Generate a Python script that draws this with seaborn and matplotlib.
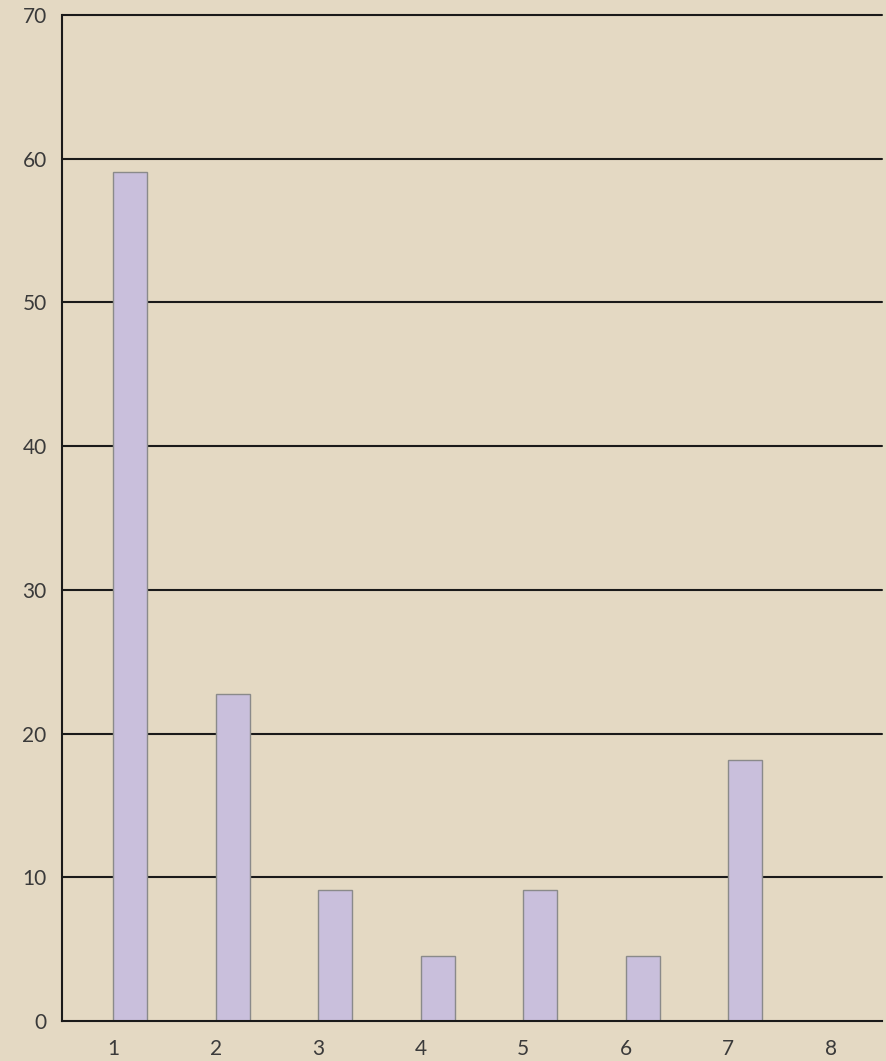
import matplotlib
matplotlib.use("Agg")
import matplotlib.pyplot as plt
import seaborn as sns
import pandas as pd
import numpy as np

categories = ["1", "2", "3", "4", "5", "6", "7", "8"]
values = [59.09, 22.73, 9.09, 4.55, 9.09, 4.55, 18.18, 0.0]
empty_series = [0, 0, 0, 0, 0, 0, 0, 0]
yticks = [0, 10, 20, 30, 40, 50, 60, 70]

sns.set_style("white")
plt.rcParams["font.family"] = ["Lato", "DejaVu Sans"]

bg = "#e4d9c3"
fig = plt.figure(figsize=(8.86, 10.61), dpi=100, facecolor=bg)
ax = fig.add_axes([62/886, 40/1061, 820/886, 1006/1061])
ax.set_facecolor(bg)

df = pd.DataFrame({
    "cat": categories * 2,
    "val": empty_series + values,
    "series": ["a"] * len(categories) + ["b"] * len(categories),
})
sns.barplot(data=df, x="cat", y="val", hue="series", hue_order=["a", "b"], ax=ax,
            palette=["#c9bfdc", "#c9bfdc"], edgecolor="#8a8a8a", linewidth=1.0,
            width=2/3, saturation=1, dodge=True, legend=False)

ax.set_ylim(0, 70)
ax.set_xlim(-0.5, len(categories) - 0.5)
ax.set_yticks(yticks)
ax.set_yticklabels([str(t) for t in yticks])
for t in yticks[1:]:
    ax.axhline(t, color="#1a1a1a", lw=1.5, zorder=0.5, clip_on=False)

ax.set_xticks(range(len(categories)))
ax.set_xticklabels(categories)
ax.set_xticks(np.arange(-0.5, len(categories), 1.0), minor=True)
ax.tick_params(axis="x", which="major", length=0, pad=13, labelsize=15, labelcolor="#3a3a3a")
ax.tick_params(axis="x", which="minor", length=8, width=1.5, color="#1a1a1a", direction="out")
ax.tick_params(axis="y", length=6, width=1.5, color="#1a1a1a", direction="out", pad=5,
               labelsize=15, labelcolor="#3a3a3a")
ax.set_xlabel("")
ax.set_ylabel("")

for s in ["top", "right"]:
    ax.spines[s].set_visible(False)
for s in ["left", "bottom"]:
    ax.spines[s].set_color("#1a1a1a")
    ax.spines[s].set_linewidth(1.5)

fig.savefig("out.png", dpi=100, facecolor=bg)
